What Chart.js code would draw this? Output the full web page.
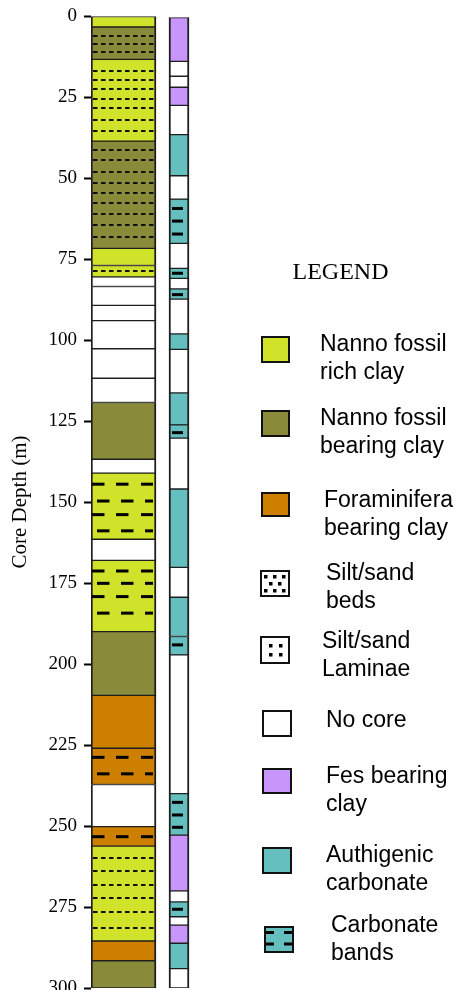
<!DOCTYPE html>
<html>
<head>
<meta charset="utf-8">
<script src="https://cdn.jsdelivr.net/npm/chart.js@4.4.1/dist/chart.umd.min.js"></script>
<style>
  html, body { margin: 0; padding: 0; background: #ffffff; }
  #wrap { position: relative; width: 457px; height: 990px; }
</style>
</head>
<body>
<div id="wrap"><canvas id="core"></canvas></div>
<script>
// Depth axis (m)
const DEPTH_MIN = 0;
const DEPTH_MAX = 300;
const DEPTH_STEP = 25;

// Lithology column: unit boundaries (m), top to bottom, and the facies of each unit
const LITH_DEPTHS = [0, 3.4, 13.4, 38.6, 71.7, 77.0, 80.5, 83.5, 89.3, 94.0, 102.7, 111.8, 119.3,
  136.8, 141.1, 161.5, 168.0, 190.0, 209.7, 226.0, 237.2, 250.2, 256.2, 285.5, 291.6, 300];
const LITH_UNITS = ['rich', 'bearing', 'rich', 'bearing', 'rich', 'rich', 'none', 'none', 'none',
  'none', 'none', 'none', 'bearing', 'none', 'rich', 'none', 'rich', 'bearing', 'foram', 'foram',
  'none', 'foram', 'rich', 'foram', 'bearing'];

// Carbonate / sulphide column: unit boundaries (m) and facies
const CARB_DEPTHS = [0.5, 14.0, 18.6, 22.0, 27.6, 36.6, 49.3, 56.5, 70.2, 77.9, 81.0, 84.2, 87.4,
  98.1, 102.9, 116.3, 126.2, 130.3, 146.0, 170.2, 179.4, 191.5, 197.2, 240.0, 252.8, 270.0, 273.4,
  278.0, 280.6, 286.2, 294.0, 300];
const CARB_UNITS = ['fes', 'none', 'none', 'fes', 'none', 'auth', 'none', 'auth', 'none', 'auth',
  'none', 'auth', 'none', 'auth', 'none', 'auth', 'auth', 'none', 'auth', 'none', 'auth', 'auth',
  'none', 'auth', 'fes', 'none', 'auth', 'none', 'fes', 'auth', 'none'];

// Silt/sand laminae (dotted lines) in the lithology column, m
const LAMINAE_DEPTHS = [6.3, 8.5, 11.1, 17.0, 19.8, 22.6, 25.5, 28.5, 32.1, 35.5, 41.3, 44.5, 48.2,
  51.5, 54.6, 57.8, 61.1, 64.6, 68.1, 78.7, 260.0, 263.9, 268.2, 272.1, 276.5, 281.5];
// Silt/sand beds (heavy dashes) in the lithology column, m
const BED_DEPTHS = [144.5, 149.7, 153.9, 158.9, 171.3, 175.1, 179.2, 184.3, 228.8, 233.9, 253.3];
// Carbonate bands in the carbonate column, m
const BAND_DEPTHS = [59.4, 63.3, 67.3, 79.4, 86.0, 128.6, 194.1, 242.7, 246.6, 250.4, 275.7];

// Legend entries
const LEGEND_TITLE = 'LEGEND';
const LEGEND_KEYS = ['rich', 'bearing', 'foram', 'beds', 'laminae', 'none', 'fes', 'auth', 'bands'];
const LEGEND_TEXT = [
  ['Nanno fossil', 'rich clay'],
  ['Nanno fossil', 'bearing clay'],
  ['Foraminifera', 'bearing clay'],
  ['Silt/sand', 'beds'],
  ['Silt/sand', 'Laminae'],
  ['No core'],
  ['Fes bearing', 'clay'],
  ['Authigenic', 'carbonate'],
  ['Carbonate', 'bands']
];

// ---- styling and layout ----
const FACIES_COLORS = {
  rich: '#d1e22b',
  bearing: '#8a8b3a',
  foram: '#cd8000',
  none: '#ffffff',
  fes: '#c896fa',
  auth: '#66bfbf',
  beds: '#ffffff',
  laminae: '#ffffff',
  bands: '#66bfbf'
};
const COLUMNS = {
  lith: { x: 32.5, width: 65 },
  carb: { x: 88, width: 20 }
};
// swatch box [x, y, w, h], text x, first baseline
const LEGEND_LAYOUT = [
  [262, 337, 27, 25, 320, 351],
  [262, 411, 27, 25, 320, 425],
  [262, 493, 27, 23, 324, 507],
  [261, 571, 28, 25, 326, 580],
  [261, 637, 28, 26, 322, 648],
  [263, 711, 28, 25, 326, 727],
  [263, 769, 28, 24, 326, 783],
  [263, 848, 28, 25, 326, 862],
  [265, 927, 28, 25, 331, 932]
];
const LEGEND_LINE = 28.3;

function columnDatasets(depths, units, col, prefix) {
  const groups = {};
  units.forEach((u, i) => {
    (groups[u] = groups[u] || []).push({ x: col.x, y: [depths[i], depths[i + 1]] });
  });
  return Object.keys(groups).map(u => ({
    label: prefix + '-' + u,
    data: groups[u],
    backgroundColor: FACIES_COLORS[u],
    borderColor: '#1e1e1e',
    borderWidth: { left: 2, right: 2, top: 1, bottom: 1 },
    borderSkipped: false,
    barThickness: col.width,
    stack: 'core'
  }));
}

// Pattern overlays drawn over the column units
const patternPlugin = {
  id: 'patterns',
  afterDatasetsDraw(chart) {
    const { ctx, scales: { x, y } } = chart;
    ctx.save();
    const lx0 = x.getPixelForValue(COLUMNS.lith.x) - COLUMNS.lith.width / 2;
    const lx1 = lx0 + COLUMNS.lith.width;

    // laminae
    ctx.strokeStyle = '#111';
    ctx.lineWidth = 2;
    ctx.setLineDash([4.5, 3.5]);
    LAMINAE_DEPTHS.forEach(d => {
      const py = Math.round(y.getPixelForValue(d));
      ctx.beginPath();
      ctx.moveTo(lx0 + 2, py);
      ctx.lineTo(lx1 - 2, py);
      ctx.stroke();
    });
    ctx.setLineDash([]);

    // beds
    ctx.fillStyle = '#000';
    const rows = [[1, 25, 50], [6, 30, 54]];
    BED_DEPTHS.forEach((d, i) => {
      const py = y.getPixelForValue(d);
      rows[i % 2].forEach(off => {
        const xs = lx0 + off;
        const xe = Math.min(xs + 12.5, lx1 - 3);
        ctx.fillRect(xs, py - 1.5, xe - xs, 3);
      });
    });

    // carbonate bands
    const cx = x.getPixelForValue(COLUMNS.carb.x);
    BAND_DEPTHS.forEach(d => {
      const py = y.getPixelForValue(d);
      ctx.fillRect(cx - 7, py - 1.5, 11, 3);
    });
    ctx.restore();
  }
};

function drawSwatch(ctx, key, bx, by, bw, bh) {
  ctx.fillStyle = FACIES_COLORS[key];
  ctx.fillRect(bx, by, bw, bh);
  ctx.fillStyle = '#000';
  if (key === 'beds') {
    [[3, 4], [12, 4], [21, 4], [8, 11], [17, 11], [3, 18], [12, 18], [21, 18]].forEach(p =>
      ctx.fillRect(bx + p[0], by + p[1], 3.5, 3.5));
  } else if (key === 'laminae') {
    [[8, 7], [18, 7], [8, 16], [18, 16]].forEach(p =>
      ctx.fillRect(bx + p[0], by + p[1], 3.5, 3.5));
  } else if (key === 'bands') {
    [[1, 4], [19, 4], [1, 15.5], [19, 15.5]].forEach(p =>
      ctx.fillRect(bx + p[0], by + p[1], 8, 3));
  }
  ctx.strokeStyle = '#111';
  ctx.lineWidth = 2;
  ctx.strokeRect(bx, by, bw, bh);
}

const legendPlugin = {
  id: 'facieslegend',
  afterDraw(chart) {
    const ctx = chart.ctx;
    ctx.save();
    ctx.fillStyle = '#000';
    ctx.textAlign = 'left';
    ctx.textBaseline = 'alphabetic';
    ctx.font = '24px "Liberation Serif", "Times New Roman", serif';
    ctx.fillText(LEGEND_TITLE, 292.5, 279);
    LEGEND_KEYS.forEach((key, i) => {
      const [bx, by, bw, bh, tx, tb] = LEGEND_LAYOUT[i];
      drawSwatch(ctx, key, bx, by, bw, bh);
      ctx.fillStyle = '#000';
      ctx.font = '23px "Liberation Sans", Arial, sans-serif';
      LEGEND_TEXT[i].forEach((line, j) => ctx.fillText(line, tx, tb + j * LEGEND_LINE));
    });
    ctx.restore();
  }
};

const datasets = [
  ...columnDatasets(LITH_DEPTHS, LITH_UNITS, COLUMNS.lith, 'lith'),
  ...columnDatasets(CARB_DEPTHS, CARB_UNITS, COLUMNS.carb, 'carb')
];

new Chart(document.getElementById('core'), {
  type: 'bar',
  data: { datasets },
  plugins: [patternPlugin, legendPlugin],
  options: {
    responsive: true,
    maintainAspectRatio: false,
    animation: false,
    events: [],
    layout: { padding: { left: 0, right: 267, top: 16, bottom: 2 } },
    plugins: { legend: { display: false }, tooltip: { enabled: false } },
    scales: {
      x: {
        type: 'linear',
        min: 0,
        max: 99,
        display: false,
        stacked: true,
        offset: false
      },
      y: {
        type: 'linear',
        reverse: true,
        stacked: false,
        min: DEPTH_MIN,
        max: DEPTH_MAX,
        ticks: {
          stepSize: DEPTH_STEP,
          color: '#000',
          padding: 7,
          font: { family: '"Liberation Serif", "Times New Roman", serif', size: 19 }
        },
        grid: {
          drawOnChartArea: false,
          drawTicks: true,
          tickLength: 7,
          tickWidth: 2,
          tickColor: '#000'
        },
        border: { display: false },
        title: {
          display: true,
          text: 'Core Depth (m)',
          color: '#000',
          padding: { top: 8, bottom: 0 },
          font: { family: '"Liberation Serif", "Times New Roman", serif', size: 21 }
        },
        afterFit(scale) {
          scale.width = 91;
          scale.paddingTop = 0;
          scale.paddingBottom = 0;
        }
      }
    }
  }
});
</script>
</body>
</html>
